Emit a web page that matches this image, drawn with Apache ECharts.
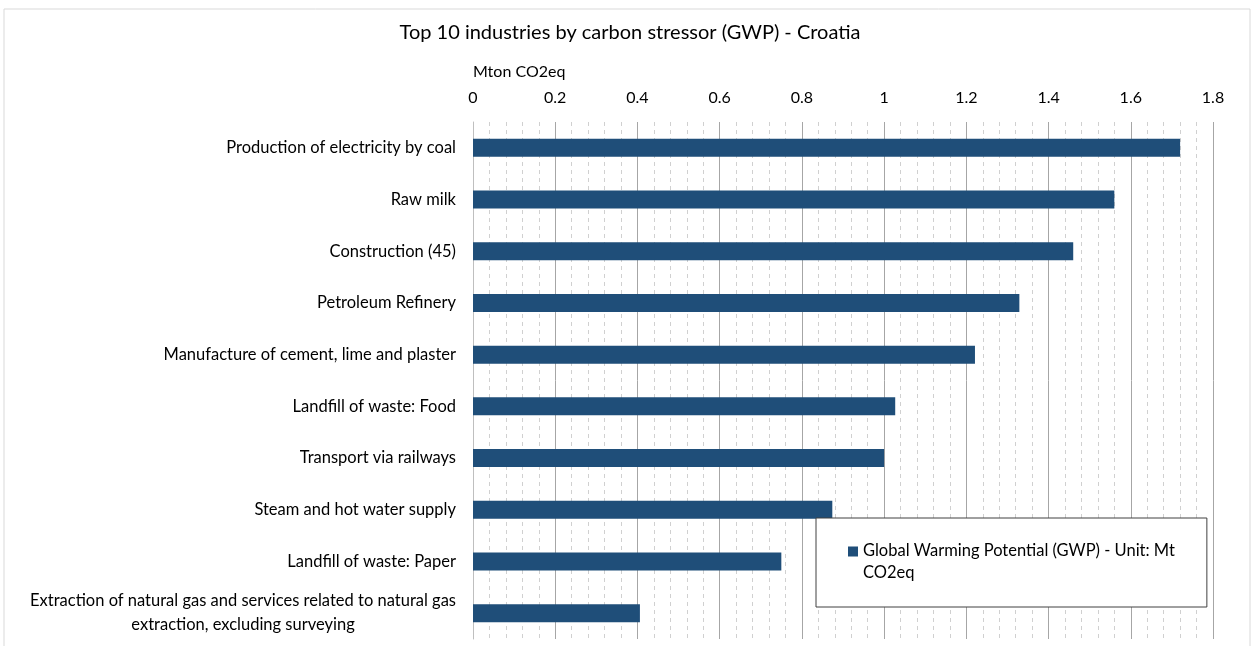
<!DOCTYPE html>
<html>
<head>
<meta charset="utf-8">
<script src="https://cdn.jsdelivr.net/npm/echarts@6/dist/echarts.min.js"></script>
<style>
  html, body { margin: 0; padding: 0; background: #fff; }
  #chart { width: 1253px; height: 646px; }
</style>
</head>
<body>
<div id="chart"></div>
<script>
// Industries, largest emitter first
const industries = [
  'Production of electricity by coal',
  'Raw milk',
  'Construction (45)',
  'Petroleum Refinery',
  'Manufacture of cement, lime and plaster',
  'Landfill of waste: Food',
  'Transport via railways',
  'Steam and hot water supply',
  'Landfill of waste: Paper',
  'Extraction of natural gas and services related to natural gas\nextraction, excluding surveying'
];
// Global Warming Potential, Mt CO2eq
const gwpValues = [1.72, 1.56, 1.46, 1.329, 1.221, 1.027, 1.0, 0.874, 0.75, 0.406];
const seriesName = 'Global Warming Potential (GWP) - Unit: Mt CO2eq';
const xTicks = { min: 0, max: 1.8, interval: 0.2 };

const FONT = 'Lato, "Noto Sans", sans-serif';
const chart = echarts.init(document.getElementById('chart'), null, { renderer: 'canvas' });

chart.setOption({
  backgroundColor: '#ffffff',
  animation: false,
  textStyle: { fontFamily: FONT },
  graphic: [{
    type: 'rect',
    shape: { x: 4, y: 9, width: 1246, height: 660 },
    style: { fill: 'none', stroke: '#d9d9d9', lineWidth: 1 },
    silent: true
  }],
  title: [
    {
      text: 'Top 10 industries by carbon stressor (GWP) - Croatia',
      left: 630, top: 23, textAlign: 'center', padding: 0,
      textStyle: { fontFamily: FONT, fontSize: 20, fontWeight: 'normal', color: '#000' }
    },
    {
      text: 'Mton CO2eq',
      left: 473, top: 64, padding: 0,
      textStyle: { fontFamily: FONT, fontSize: 16, fontWeight: 'normal', color: '#000' }
    }
  ],
  legend: {
    left: 816, top: 518,
    orient: 'vertical',
    backgroundColor: '#fff',
    borderColor: '#404040',
    borderWidth: 1,
    padding: [22, 32, 23, 32],
    itemWidth: 10,
    itemHeight: 31,
    icon: 'path://M0,0h10v10h-10zM0,31h10',
    formatter: () => 'Global Warming Potential (GWP) - Unit: Mt\nCO2eq',
    textStyle: { fontFamily: FONT, fontSize: 16.5, lineHeight: 22, color: '#000' },
    data: [seriesName]
  },
  grid: { left: 473, right: 40, top: 122, bottom: 7, containLabel: false },
  xAxis: {
    type: 'value',
    position: 'top',
    min: xTicks.min, max: xTicks.max, interval: xTicks.interval,
    axisLine: { show: false },
    axisTick: { show: false },
    axisLabel: {
      margin: 16, fontSize: 16, color: '#000', fontFamily: FONT,
      formatter: v => String(Math.round(v * 10) / 10)
    },
    splitLine: { show: true, lineStyle: { color: '#a6a6a6', width: 1 } },
    minorTick: { show: false, splitNumber: 5 },
    minorSplitLine: { show: true, lineStyle: { color: '#d0d0d0', width: 1, type: [4, 4] } }
  },
  yAxis: {
    type: 'category',
    inverse: true,
    data: industries,
    axisLine: { show: true, lineStyle: { color: '#bfbfbf' } },
    axisTick: { show: false },
    axisLabel: {
      margin: 17, fontSize: 16.5, color: '#000', fontFamily: FONT, lineHeight: 24,
      formatter: v => '{c|' + v.split('\n').join('}\n{c|') + '}',
      rich: { c: { align: 'center', fontSize: 16.5, lineHeight: 24, fontFamily: FONT, color: '#000' } }
    }
  },
  series: [{
    name: seriesName,
    type: 'bar',
    data: gwpValues,
    barWidth: 18,
    itemStyle: { color: '#1f4e79' }
  }]
});
</script>
</body>
</html>
